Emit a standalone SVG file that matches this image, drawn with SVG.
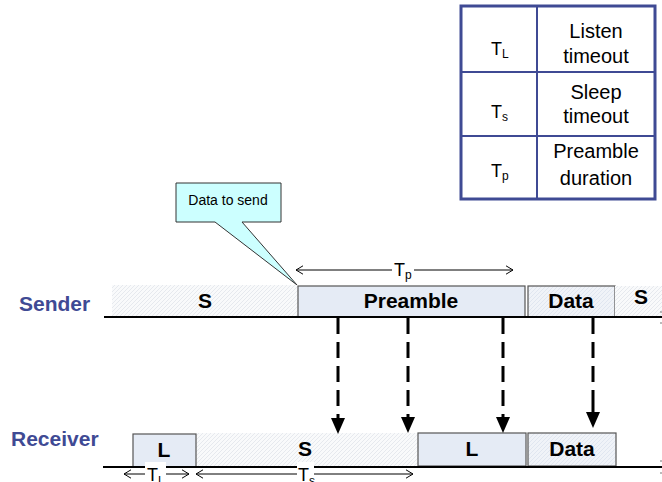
<svg xmlns="http://www.w3.org/2000/svg" width="662" height="482" viewBox="0 0 662 482">
  <style>
    .tbl { fill: none; stroke: #3f4a94; }
    .tt { font-family: "Liberation Sans", Arial, sans-serif; font-size: 20px; fill: #000; text-anchor: middle; }
    .sym { font-family: "Liberation Sans", Arial, sans-serif; font-size: 18px; fill: #000; }
    .sub { font-size: 12px; }
    .lbl { font-family: "Liberation Sans", Arial, sans-serif; font-size: 21px; font-weight: bold; fill: #000; text-anchor: middle; }
    .who { font-family: "Liberation Sans", Arial, sans-serif; font-size: 21px; font-weight: bold; fill: #3f4a94; }
    .box { fill: #e5ebf5; stroke: #555; stroke-width: 1.2; }
    .dbox { fill: url(#hatchBlue); stroke: #555; stroke-width: 1.2; }
    .idle { fill: url(#hatch); }
    .axis { stroke: #000; stroke-width: 2; fill: none; }
    .dim { stroke: #000; stroke-width: 1; fill: none; marker-start: url(#chev); marker-end: url(#chev); }
    .sig { stroke: #000; stroke-width: 3; stroke-dasharray: 16 8; fill: none; }
    .head { fill: #000; }
  </style>
  <defs>
    <pattern id="hatch" width="4" height="4" patternUnits="userSpaceOnUse">
      <rect width="4" height="4" fill="#f9fafb"/>
      <path d="M0,4 L4,0 M-1,1 L1,-1 M3,5 L5,3" stroke="#e6e9ee" stroke-width="1"/>
    </pattern>
    <pattern id="hatchBlue" width="4" height="4" patternUnits="userSpaceOnUse">
      <rect width="4" height="4" fill="#f0f3f8"/>
      <path d="M0,4 L4,0 M-1,1 L1,-1 M3,5 L5,3" stroke="#e0e6f0" stroke-width="1"/>
    </pattern>
    <marker id="chev" viewBox="0 0 10 12" refX="10" refY="6" markerWidth="7" markerHeight="10" markerUnits="userSpaceOnUse" orient="auto-start-reverse">
      <path d="M0,0 L10,6 L0,12" fill="none" stroke="#000" stroke-width="1.4"/>
    </marker>
  </defs>

  <!-- legend table -->
  <g id="legend">
    <rect class="tbl" x="461" y="6" width="194" height="193" stroke-width="3"/>
    <line class="tbl" x1="537" y1="6" x2="537" y2="199" stroke-width="2"/>
    <line class="tbl" x1="461" y1="72" x2="655" y2="72" stroke-width="2"/>
    <line class="tbl" x1="461" y1="136" x2="655" y2="136" stroke-width="2"/>
    <text class="sym" x="491" y="55">T<tspan class="sub" dy="3">L</tspan></text>
    <text class="tt" x="596" y="38">Listen</text>
    <text class="tt" x="596" y="63">timeout</text>
    <text class="sym" x="491" y="118">T<tspan class="sub" dy="3">s</tspan></text>
    <text class="tt" x="596" y="99">Sleep</text>
    <text class="tt" x="596" y="123">timeout</text>
    <text class="sym" x="491" y="177">T<tspan class="sub" dy="3">p</tspan></text>
    <text class="tt" x="596" y="158">Preamble</text>
    <text class="tt" x="596" y="185">duration</text>
  </g>

  <!-- callout -->
  <g id="callout">
    <path d="M176,183 H281 V222 H242 L297,285 L215,222 H176 Z" fill="#ccffff" stroke="#333" stroke-width="1"/>
    <text x="228" y="205" font-family="'Liberation Sans', Arial, sans-serif" font-size="14" text-anchor="middle">Data to send</text>
  </g>

  <!-- sender timeline -->
  <g id="sender">
    <text class="who" x="19" y="311">Sender</text>
    <rect class="idle" x="112" y="285" width="186" height="32"/>
    <text class="lbl" x="205" y="308">S</text>
    <rect class="box" x="298" y="286" width="227" height="31"/>
    <text class="lbl" x="411" y="308">Preamble</text>
    <rect class="dbox" x="528" y="286" width="87" height="31"/>
    <text class="lbl" x="571" y="308">Data</text>
    <rect class="idle" x="615" y="286" width="47" height="31"/>
    <text class="lbl" x="641" y="304">S</text>
    <line class="axis" x1="104" y1="317" x2="662" y2="317"/>
    <path d="M660,312 h2 M660,323 h2" stroke="#777" stroke-width="1"/>
  </g>

  <!-- receiver timeline -->
  <g id="receiver">
    <text class="who" x="11" y="446">Receiver</text>
    <rect class="idle" x="196" y="433" width="222" height="34"/>
    <text class="lbl" x="305" y="456">S</text>
    <rect class="box" x="133" y="434" width="63" height="33" stroke="#333"/>
    <text class="lbl" x="164" y="457">L</text>
    <rect class="box" x="418" y="433" width="108" height="33" stroke="#333"/>
    <text class="lbl" x="472" y="456">L</text>
    <rect class="dbox" x="528" y="433" width="88" height="33" stroke="#333"/>
    <text class="lbl" x="572" y="456">Data</text>
    <line class="axis" x1="103" y1="467" x2="662" y2="467"/>
    <path d="M660,461 h2 M660,473 h2" stroke="#777" stroke-width="1"/>
  </g>

  <!-- durations -->
  <g id="durations">
    <line class="dim" x1="296" y1="270" x2="513" y2="270"/>
    <rect x="392" y="261" width="22" height="18" fill="#fff"/>
    <text class="sym" x="394" y="276" font-size="17">T<tspan class="sub" dy="3">p</tspan></text>

    <line class="dim" x1="124" y1="474" x2="189" y2="474"/>
    <rect x="145" y="462" width="21" height="20" fill="#fff"/>
    <text class="sym" x="147" y="481">T<tspan class="sub" dy="4">L</tspan></text>

    <line class="dim" x1="196" y1="474" x2="413" y2="474"/>
    <rect x="297" y="462" width="17" height="20" fill="#fff"/>
    <text class="sym" x="298" y="481">T<tspan class="sub" dy="4">s</tspan></text>
  </g>

  <!-- preamble/data sampled by receiver -->
  <g id="connectors">
    <line class="sig" x1="338" y1="318" x2="338" y2="419"/>
    <polygon class="head" points="331,418 345,418 338,434"/>
    <line class="sig" x1="408" y1="318" x2="408" y2="419"/>
    <polygon class="head" points="401,417 415,417 408,433"/>
    <line class="sig" x1="503" y1="318" x2="503" y2="419"/>
    <polygon class="head" points="496,417 510,417 503,433"/>
    <line class="sig" x1="593" y1="318" x2="593" y2="394"/>
    <line stroke="#000" stroke-width="3" x1="593" y1="394" x2="593" y2="414"/>
    <polygon class="head" points="586,412 600,412 593,428"/>
  </g>
</svg>
